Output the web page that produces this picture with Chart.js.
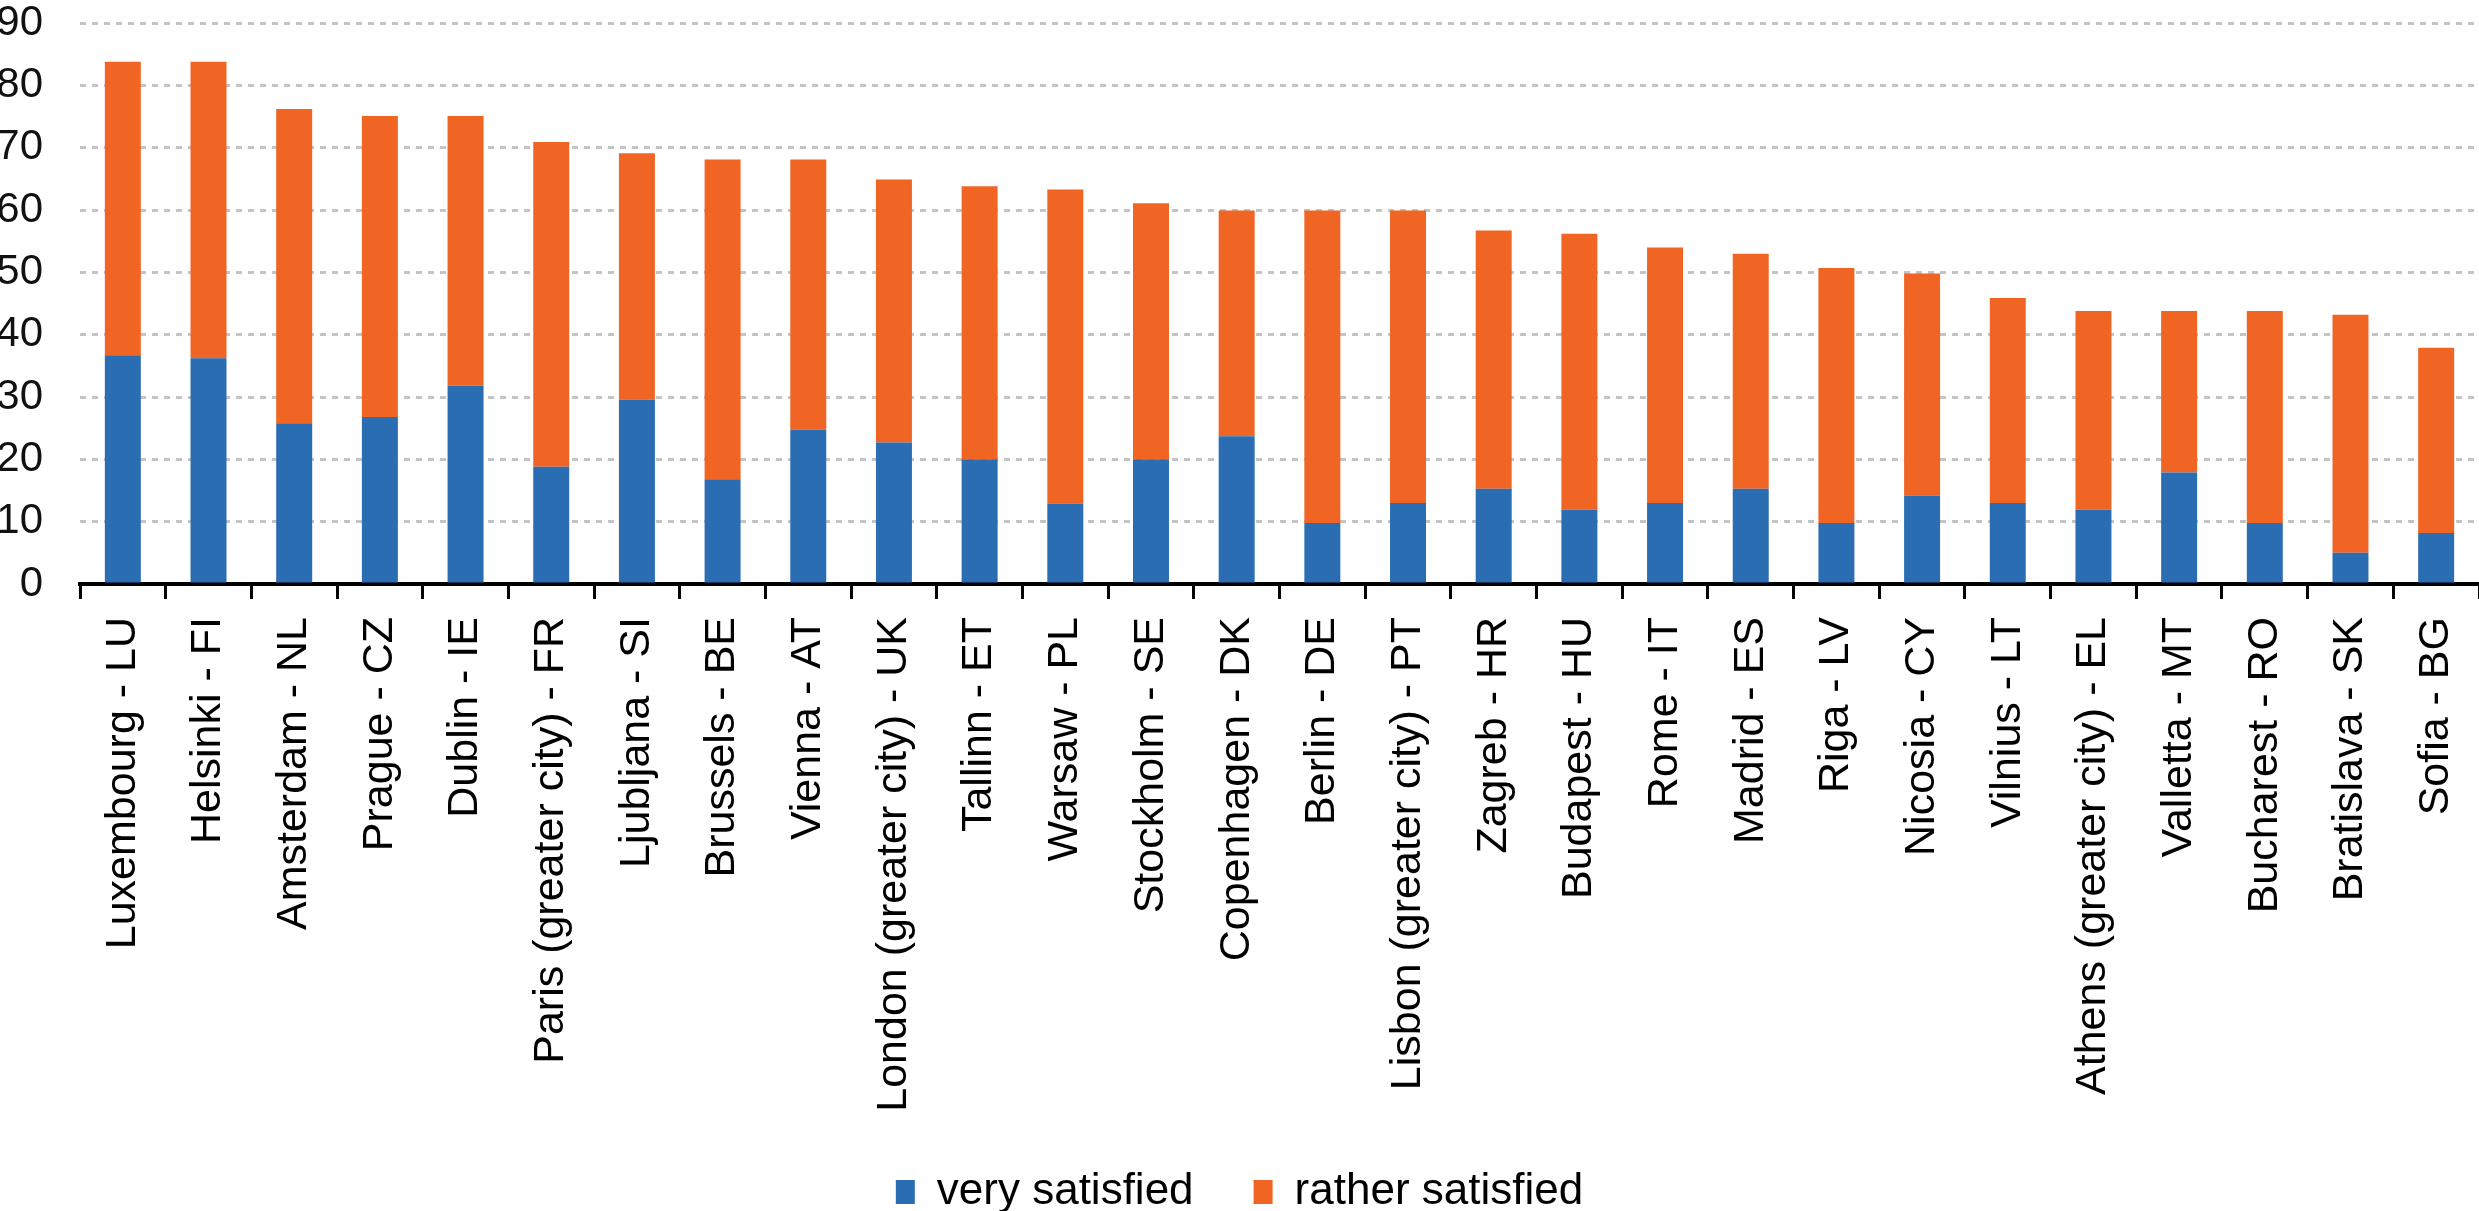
<!DOCTYPE html>
<html>
<head>
<meta charset="utf-8">
<script src="https://cdn.jsdelivr.net/npm/chart.js@4.4.1/dist/chart.umd.min.js"></script>
<style>
    html, body { margin: 0; padding: 0; background: #fff; }
    #wrap { width: 2479px; height: 1211px; }
</style>
</head>
<body>
<div id="wrap"><canvas id="chart"></canvas></div>
<script>
const CITIES = [
    "Luxembourg - LU", "Helsinki - FI", "Amsterdam - NL", "Prague - CZ", "Dublin - IE",
    "Paris (greater city) - FR", "Ljubljana - SI", "Brussels - BE", "Vienna - AT",
    "London (greater city) - UK", "Tallinn - ET", "Warsaw - PL", "Stockholm - SE",
    "Copenhagen - DK", "Berlin - DE", "Lisbon (greater city) - PT", "Zagreb - HR",
    "Budapest - HU", "Rome - IT", "Madrid - ES", "Riga - LV", "Nicosia - CY",
    "Vilnius - LT", "Athens (greater city) - EL", "Valletta - MT", "Bucharest - RO",
    "Bratislava - SK", "Sofia - BG"
];

const VERY_SATISFIED = [36.7, 36.2, 25.8, 26.8, 31.8, 18.8, 29.6, 16.8, 24.8, 22.7, 20.0, 12.9, 20.0, 23.7,
    9.8, 13.0, 15.3, 11.9, 13.0, 15.3, 9.8, 14.2, 13.0, 11.9, 17.9, 9.8, 5.0, 8.2];

const RATHER_SATISFIED = [47.1, 47.6, 50.4, 48.3, 43.3, 52.1, 39.5, 51.3, 43.3, 42.2, 43.8, 50.4, 41.1, 36.2,
    50.1, 46.9, 41.4, 44.3, 41.0, 37.7, 40.9, 35.6, 32.9, 31.9, 25.9, 34.0, 38.2, 29.7];

const SERIES = ["very satisfied", "rather satisfied"];
const Y_MIN = 0, Y_MAX = 90, Y_STEP = 10;

const COLORS = ["#2a6db3", "#f06524"];
const FONT = "'Liberation Sans', Arial, sans-serif";

// the legend sits right on the bottom edge in the original, so trim its box a little
const legendFit = {
    id: "legendFit",
    beforeLayout(chart) {
        const legend = chart.legend;
        if (!legend || legend._patched) return;
        const fit = legend.fit;
        legend.fit = function () {
            fit.call(this);
            this.height -= 13;
        };
        legend._patched = true;
    }
};

new Chart(document.getElementById("chart"), {
    type: "bar",
    data: {
        labels: CITIES,
        datasets: [
            { label: SERIES[0], data: VERY_SATISFIED, backgroundColor: COLORS[0] },
            { label: SERIES[1], data: RATHER_SATISFIED, backgroundColor: COLORS[1] }
        ]
    },
    options: {
        responsive: true,
        maintainAspectRatio: false,
        animation: false,
        devicePixelRatio: 1,
        categoryPercentage: 1,
        barPercentage: 0.42,
        layout: { padding: { top: 23, right: 0, bottom: 0, left: 0 } },
        plugins: {
            legend: {
                position: "bottom",
                labels: {
                    boxWidth: 19,
                    boxHeight: 24,
                    padding: 60,
                    color: "#000",
                    font: { family: FONT, size: 44 }
                }
            },
            tooltip: { enabled: false }
        },
        scales: {
            x: {
                stacked: true,
                // long tick slot gives the label gap, the dash keeps the visible mark short
                grid: {
                    drawOnChartArea: false, drawTicks: true, tickLength: 33,
                    color: "#000", lineWidth: 3, offset: true, tickBorderDash: [13, 100]
                },
                border: { color: "#000", width: 4 },
                ticks: {
                    autoSkip: false,
                    minRotation: 90,
                    maxRotation: 90,
                    padding: 0,
                    color: "#000",
                    font: { family: FONT, size: 43, lineHeight: 0.9 }
                },
                afterFit(scale) { scale.height = 526; }
            },
            y: {
                stacked: true,
                min: Y_MIN,
                max: Y_MAX,
                ticks: {
                    stepSize: Y_STEP,
                    padding: 0,
                    color: "#111",
                    font: { family: FONT, size: 42, lineHeight: 1 }
                },
                grid: { color: "#c4c4c4", lineWidth: 3, drawTicks: true, tickLength: 37, tickColor: "rgba(0,0,0,0)" },
                border: { display: false, dash: [6, 6] },
                afterFit(scale) { scale.width = 80; }
            }
        }
    },
    plugins: [legendFit]
});
</script>
</body>
</html>
